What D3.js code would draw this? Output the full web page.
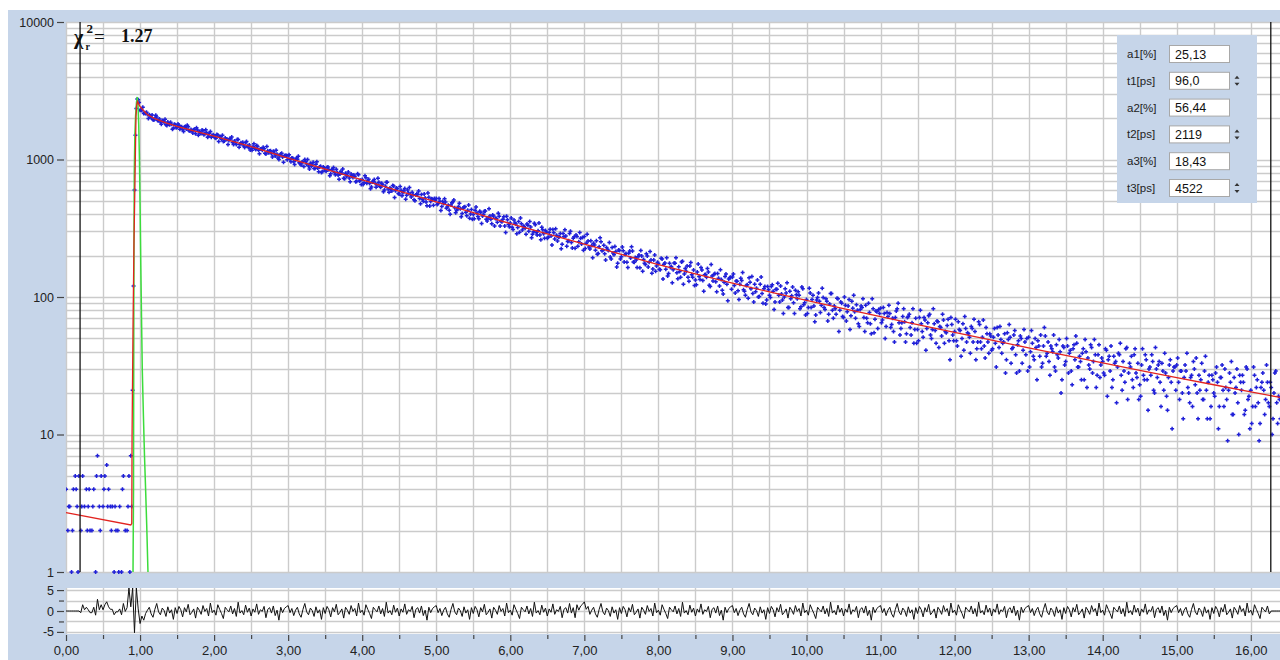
<!DOCTYPE html>
<html>
<head>
<meta charset="utf-8">
<script src="https://cdn.jsdelivr.net/npm/d3@7"></script>
<style>
  body { margin: 0; background: #fff; }
  svg { display: block; }
  text { font-family: "Liberation Sans", Arial, sans-serif; }
</style>
</head>
<body>
<svg id="chart" width="1280" height="660"></svg>
<script>
// ---- Decay measurement (TCSPC), channel width in ns ----
const channelWidth = 0.0125;

// photon counts per channel, starting at 0 ns
const counts = [
4,0,2,3,3,0,1,2,4,0,5,4,3,1,5,0,2,3,5,0,3,0,4,2,3,4,2,0,2,3,4,0,1,5,7,0,3,2,5,0,3,4,5,0,6,3,4,0,3,2,3,0,1,3,2,0,2,1,3,0,1,4,5,0,2,0,2,3,5,1,7,3,21,120,600,1500,2350,2750,2720,2600,
2285,2289,2276,2403,2161,2189,2163,2209,2129,1983,2120,2083,2008,2106,1942,1936,1998,2099,2036,1924,1921,1970,1870,1805,1922,1894,1875,1959,1792,1768,1875,1811,1788,1869,1805,1657,1685,1807,1793,1703,
1715,1815,1772,1658,1726,1732,1643,1595,1720,1737,1666,1778,1727,1618,1612,1650,1624,1556,1645,1659,1542,1700,1637,1504,1596,1561,1543,1640,1617,1513,1548,1649,1565,1452,1479,1551,1595,1454,1489,1515,
1487,1440,1430,1519,1510,1354,1456,1464,1406,1500,1349,1365,1436,1401,1402,1285,1372,1421,1411,1457,1329,1286,1365,1326,1283,1395,1397,1228,1289,1324,1300,1334,1252,1223,1326,1349,1251,1230,1277,1171,
1199,1169,1245,1304,1207,1184,1263,1241,1167,1100,1193,1194,1168,1227,1197,1111,1095,1243,1152,1119,1155,1159,1100,1041,1148,1111,1059,1166,1093,1027,1001,1063,1096,1111,1041,955,1065,1071,1069,996,
1065,1082,1003,963,1025,1020,963,918,993,1026,1006,1057,947,936,913,961,963,890,998,968,927,1000,897,852,938,896,911,956,859,861,922,964,866,816,883,892,804,819,883,866,
833,821,873,883,843,761,788,845,842,875,806,774,850,804,773,718,783,823,798,853,729,725,795,758,769,812,734,688,785,762,739,773,753,690,695,788,776,699,705,657,
715,657,677,762,736,672,700,718,668,613,631,687,694,715,673,628,654,731,684,640,629,673,657,583,601,640,684,683,610,578,621,610,589,648,642,530,593,621,613,567,
561,635,597,546,572,590,615,513,550,600,570,625,556,533,579,555,510,502,553,564,557,590,521,477,557,513,497,562,524,490,461,571,531,459,495,519,514,464,520,504,
521,470,479,520,496,426,455,494,478,518,490,442,451,465,428,400,466,484,493,508,445,410,425,436,456,481,439,384,404,444,451,453,414,390,428,467,374,401,432,368,
398,370,428,452,409,385,371,421,412,342,388,400,420,422,367,357,375,438,388,368,341,395,389,328,372,372,349,407,387,328,356,353,367,383,328,294,387,365,337,324,
346,376,321,310,363,345,340,289,320,354,296,375,341,307,327,325,316,286,339,333,301,354,323,270,286,298,344,336,295,282,303,345,283,261,321,308,289,267,304,297,
268,272,295,311,278,239,310,293,264,313,281,255,272,274,290,224,242,290,274,309,278,234,253,256,290,301,249,227,268,274,226,282,276,234,252,295,267,243,271,219,
276,225,246,286,255,231,223,257,237,193,246,239,219,257,205,207,232,270,252,217,219,238,206,186,229,222,218,249,195,189,229,209,203,233,214,165,176,220,218,189,
196,231,217,180,204,207,179,164,208,216,192,232,216,180,179,194,186,164,196,202,163,218,199,154,187,176,172,206,199,165,179,214,186,149,160,186,202,154,168,179,
175,159,158,191,189,135,173,177,159,193,142,148,176,164,167,127,158,177,176,193,150,136,166,153,139,180,182,124,147,161,154,168,139,130,168,178,145,139,157,121,
133,123,152,174,141,134,164,157,132,110,145,146,139,161,152,122,119,172,142,131,146,148,129,109,148,137,120,158,134,112,105,128,141,147,124,94,135,138,139,114,
140,147,121,107,131,130,111,96,124,137,132,151,113,110,103,121,123,98,138,128,115,141,106,92,124,109,116,133,100,101,124,140,106,90,115,119,89,95,119,113,
103,99,119,123,110,81,92,114,114,126,103,92,120,105,95,76,100,115,107,127,84,84,110,97,102,118,91,76,112,104,97,109,103,82,85,118,115,88,91,74,
96,76,84,116,107,84,96,103,86,66,74,95,99,107,93,77,87,116,99,84,81,97,93,67,75,89,106,106,80,70,86,82,75,98,97,56,80,92,90,72,
71,100,87,67,78,86,96,58,73,93,83,103,78,70,88,80,64,61,81,86,84,97,71,56,87,70,65,90,77,64,54,97,82,55,69,79,78,59,81,76,
83,65,68,84,76,50,61,77,72,87,76,60,63,70,56,47,71,79,82,90,65,53,59,65,72,82,66,47,54,71,72,75,60,53,65,82,46,58,70,46,
58,48,71,80,64,56,51,71,68,41,59,65,73,75,53,50,58,82,64,57,46,67,66,43,61,60,52,75,68,46,56,55,62,69,48,35,71,63,53,48,
56,69,48,44,66,58,57,37,50,64,41,72,59,47,55,54,51,39,61,59,47,69,56,35,42,47,66,63,47,42,51,68,44,36,60,54,47,39,54,52,
41,42,51,59,46,31,60,53,43,61,49,39,46,47,54,28,35,55,49,63,51,33,42,43,53,57,38,28,45,48,29,52,50,33,41,58,47,38,50,29,
51,31,40,57,46,37,35,50,43,25,48,44,37,53,31,33,44,60,52,37,39,47,34,27,44,42,40,53,31,29,45,38,36,49,40,20,25,44,43,32,
34,50,44,28,39,41,29,23,42,45,35,52,46,31,31,37,34,25,39,42,25,49,40,22,36,32,30,45,43,28,34,49,38,22,27,38,45,26,32,36,
34,28,27,42,41,19,35,37,29,44,22,25,37,33,34,17,31,39,38,46,27,21,34,29,24,42,43,18,28,33,31,37,25,22,38,42,28,26,33,18,
23,19,32,42,27,25,38,35,25,15,30,31,27,38,34,21,20,43,30,26,32,34,24,16,33,29,21,39,28,19,15,26,32,35,24,11,29,31,31,21,
32,36,24,18,29,29,20,13,26,32,29,39,22,20,17,26,27,16,34,30,23,36,20,13,27,21,25,33,18,18,29,37,21,13,24,27,13,16,27,25,
20,19,28,31,24,11,16,26,26,32,21,16,30,22,18,9,21,28,24,34,14,14,26,20,22,30,17,10,27,24,21,27,24,14,15,31,30,18,19,11,
21,12,16,31,27,16,22,25,17,9,12,22,24,28,21,14,18,32,24,17,16,24,22,10,13,20,28,29,17,12,19,18,13
];

// weighted residuals, sampled every residualStep ns from 0 ns
const residualStep = 0.025;
const residuals = [
0,0,0,0,0,0,0,0,
-0.4,1.5,0.3,0.9,0.3,-0.4,-0.4,0.9,-1.0,2.8,0.3,1.5,0.3,1.5,2.2,1.0,0.4,0.4,-0.9,-0.2,-0.2,0.5,-0.9,1.8,-0.1,0.8,
5.5,1.0,5.5,-5.2,5.5,0.5,
-3.0,-1.2,-2.2,-0.6,0.2,0.9,-0.7,-1.5,0.4,1.8,-0.2,-0.9,0.7,0.1,-1.3,1.0,-0.5,0.3,-2.0,0.8,   // 1.0 ns
-0.6,1.1,0.3,-1.4,0.8,-0.2,1.6,-0.9,-0.3,0.5,-1.7,0.9,0.2,-0.8,1.3,-0.1,0.6,-1.2,1.9,-0.4,    // 1.5
0.2,-1.0,1.5,0.4,-0.6,-1.8,0.9,0.3,-0.2,1.2,-0.7,0.6,-1.3,2.1,-0.5,0.1,-0.9,1.4,-0.3,0.7,     // 2.0
-1.2,0.5,-0.3,1.7,-0.8,0.3,-0.1,1.1,-1.6,0.4,0.8,-0.5,1.2,-1.1,0.2,-2.2,0.9,-0.4,0.6,1.0,     // 2.5
1.3,-0.4,0.6,-1.1,0.2,0.9,-0.7,-1.5,0.4,1.8,-0.2,-0.9,0.7,0.1,-1.3,1.0,-0.5,0.3,-2.0,0.8,     // 3.0
-0.6,1.1,0.3,-1.4,0.8,-0.2,1.6,-0.9,-0.3,0.5,-1.7,0.9,0.2,-0.8,1.3,-0.1,0.6,-1.2,1.9,-0.4,    // 3.5
0.2,-1.0,1.5,0.4,-0.6,-1.8,0.9,0.3,-0.2,1.2,-0.7,0.6,-1.3,2.1,-0.5,0.1,-0.9,1.4,-0.3,0.7,     // 4.0
-1.2,0.5,-0.3,1.7,-0.8,0.3,-0.1,1.1,-1.6,0.4,0.8,-0.5,1.2,-1.1,0.2,-2.2,0.9,-0.4,0.6,1.0,     // 4.5
1.3,-0.4,0.6,-1.1,0.2,0.9,-0.7,-1.5,0.4,1.8,-0.2,-0.9,0.7,0.1,-1.3,1.0,-0.5,0.3,-2.0,0.8,     // 5.0
-0.6,1.1,0.3,-1.4,0.8,-0.2,1.6,-0.9,-0.3,0.5,-1.7,0.9,0.2,-0.8,1.3,-0.1,0.6,-1.2,1.9,-0.4,    // 5.5
0.2,-1.0,1.5,0.4,-0.6,-1.8,0.9,0.3,-0.2,1.2,-0.7,0.6,-1.3,2.1,-0.5,0.1,-0.9,1.4,-0.3,0.7,     // 6.0
-1.2,0.5,-0.3,1.7,-0.8,0.3,-0.1,1.1,-1.6,0.4,0.8,-0.5,1.8,-0.5,0.8,-1.6,1.5,0.2,1.2,1.6,      // 6.5
2.2,0.4,1.1,-0.8,0.2,0.9,-0.7,-1.5,0.4,1.8,-0.2,-0.9,0.7,0.1,-1.3,1.0,-0.5,0.3,-2.0,0.8,      // 7.0
-0.6,1.1,0.3,-1.4,0.8,-0.2,1.6,-0.9,-0.3,0.5,-1.7,0.9,0.2,-0.8,1.3,-0.1,0.6,-1.2,1.9,-0.4,    // 7.5
0.2,-1.0,1.5,0.4,-0.6,-1.8,0.9,0.3,-0.2,1.2,-0.7,0.6,-1.3,2.1,-0.5,0.1,-0.9,1.4,-0.3,0.7,     // 8.0
-1.2,0.5,-0.3,1.7,-0.8,0.3,-0.1,1.1,-1.6,0.4,0.8,-0.5,1.2,-1.1,0.2,-2.2,0.9,-0.4,0.6,1.0,     // 8.5
1.3,-0.4,0.6,-1.1,0.2,0.9,-0.7,-1.5,0.4,1.8,-0.2,-0.9,0.7,0.1,-1.3,1.0,-0.5,0.3,-2.0,0.8,     // 9.0
-0.6,1.1,0.3,-1.4,0.8,-0.2,1.6,-0.9,-0.3,0.5,-1.7,0.9,0.2,-0.8,1.3,-0.1,0.6,-1.2,1.9,-0.4,    // 9.5
0.2,-1.0,1.5,0.4,-0.6,-1.8,0.9,0.3,-0.2,1.2,-0.7,0.6,-1.3,2.1,-0.5,0.1,-0.9,1.4,-0.3,0.7,     // 10.0
-1.2,0.5,-0.3,1.7,-0.8,0.3,-0.1,1.1,-1.6,0.4,0.8,-0.5,1.2,-1.1,0.2,-2.2,0.9,-0.4,0.6,1.0,     // 10.5
1.3,-0.4,0.6,-1.1,0.2,0.9,-0.7,-1.5,0.4,1.8,-0.2,-0.9,0.7,0.1,-1.3,1.0,-0.5,0.3,-2.0,0.8,     // 11.0
-0.6,1.1,0.3,-1.4,0.8,-0.2,1.6,-0.9,-0.3,0.5,-1.7,0.9,0.2,-0.8,1.3,-0.1,0.6,-1.2,1.9,-0.4,    // 11.5
0.2,-1.0,1.5,0.4,-0.6,-1.8,0.9,0.3,-0.2,1.2,-0.7,0.6,-1.3,2.1,-0.5,0.1,-0.9,1.4,-0.3,0.7,     // 12.0
-1.2,0.5,-0.3,1.7,-0.8,0.3,-0.1,1.1,-1.6,0.4,0.8,-0.5,1.2,-1.1,0.2,-2.2,0.9,-0.4,0.6,1.0,     // 12.5
1.3,-0.4,0.6,-1.1,0.2,0.9,-0.7,-1.5,0.4,1.8,-0.2,-0.9,0.7,0.1,-1.3,1.0,-0.5,0.3,-2.0,0.8,     // 13.0
-0.6,1.1,0.3,-1.4,0.8,-0.2,1.6,-0.9,-0.3,0.5,-1.7,0.9,0.2,-0.8,1.3,-0.1,0.6,-1.2,1.9,-0.4,    // 13.5
0.2,-1.0,1.5,0.4,-0.6,-1.8,0.9,0.3,-0.2,1.2,-0.7,0.6,-1.3,2.1,-0.5,0.1,-0.9,1.4,-0.3,0.7,     // 14.0
-1.2,0.5,-0.3,1.7,-0.8,0.3,-0.1,1.1,-1.6,0.4,0.8,-0.5,1.2,-1.1,0.2,-2.2,0.9,-0.4,0.6,1.0,     // 14.5
1.3,-0.4,0.6,-1.1,0.2,0.9,-0.7,-1.5,0.4,1.8,-0.2,-0.9,0.7,0.1,-1.3,1.0,-0.5,0.3,-2.0,0.8,     // 15.0
-0.6,1.1,0.3,-1.4,0.8,-0.2,1.6,-0.9,-0.3,0.5,-1.7,0.9,0.2,-0.8,1.3,-0.1,0.6,-1.2,1.9,-0.4,    // 15.5
0.2,-1.0,1.5,0.4,-0.6,-1.8,0.9,0.3,-0.2,1.2,-0.7,0,0,0,0,0,0                                  // 16.0
];

// fitted tri-exponential model curve (time in ns, counts)
const fitTime   = [0, 0.875, 0.888, 0.892, 0.905, 0.918, 0.93, 0.945, 0.955, 0.965, 0.975, 1.0, 1.05, 1.1, 1.2, 1.35, 1.5, 1.75, 2, 2.5, 3, 3.5, 4, 4.5, 5, 5.5, 6, 6.5, 7, 7.5, 8, 8.5, 9, 9.5, 10, 10.5, 11, 11.5, 12, 12.5, 13, 13.5, 14, 14.5, 15, 15.5, 16, 16.42];
const fitCounts = [2.7, 2.2, 2.25, 9.5, 60, 250, 620, 2050, 2500, 2640, 2580, 2420, 2260, 2120, 1980, 1850, 1740, 1600, 1480, 1240, 1025, 850, 710, 590, 492, 410, 342, 288, 242, 204, 172, 147, 126, 109, 94.5, 82.3, 72, 63, 55.2, 48.5, 42.7, 37.6, 33.2, 29.3, 25.9, 23, 20.4, 18.5];

// instrument response function
const irfTime   = [0.905, 0.912, 0.915, 0.918, 0.922, 0.93, 0.94, 0.952, 0.963, 0.972, 0.982, 0.992, 1.0, 1.01, 1.02, 1.03, 1.045, 1.06, 1.075, 1.09, 1.107];
const irfCounts = [1, 4, 40, 250, 800, 1500, 2100, 2600, 2850, 2500, 1800, 1000, 480, 170, 70, 30, 14, 7, 4, 2.2, 1];

// fit range cursors (ns)
const cursorTimes = [0.19, 16.27];

// axis ticks
const yTickValues = [1, 10, 100, 1000, 10000];
const yTickLabels = ["1", "10", "100", "1000", "10000"];
const resTickValues = [5, 0, -5];
const resTickLabels = ["5", "0", "-5"];
const resMinorTicks = [2.5, -2.5];
const xTickValues = [0, 1, 2, 3, 4, 5, 6, 7, 8, 9, 10, 11, 12, 13, 14, 15, 16];
const xTickLabels = ["0,00", "1,00", "2,00", "3,00", "4,00", "5,00", "6,00", "7,00", "8,00", "9,00", "10,00", "11,00", "12,00", "13,00", "14,00", "15,00", "16,00"];

// fit result panel
const paramLabels = ["a1[%]", "t1[ps]", "a2[%]", "t2[ps]", "a3[%]", "t3[ps]"];
const paramValues = ["25,13", "96,0", "56,44", "2119", "18,43", "4522"];
const paramSpinner = [false, true, false, true, false, true];
const chiSquared = "1.27";

// ---- layout ----
const W = 1280, H = 660;
const frameColor = "#c6d5e9";
const gridColor = "#cbcbcb";
const main = { left: 66, right: 1280, top: 22, bottom: 572 };
const resid = { top: 588, bottom: 634 };
const tMax = (main.right - main.left) / 74.05;

const svg = d3.select("#chart");

svg.append("rect").attr("x", 8).attr("y", 10).attr("width", W - 8).attr("height", H - 10).attr("fill", frameColor);

const x = d3.scaleLinear().domain([0, tMax]).range([main.left, main.right]);
const y = d3.scaleLog().domain([1, 10000]).range([main.bottom, main.top]);
const yr = d3.scaleLinear().domain([-5.5, 5.5]).range([resid.bottom, resid.top]);

// plot backgrounds
svg.append("rect").attr("x", main.left).attr("y", main.top)
  .attr("width", main.right - main.left).attr("height", main.bottom - main.top).attr("fill", "#fff");
svg.append("rect").attr("x", main.left).attr("y", resid.top)
  .attr("width", main.right - main.left).attr("height", resid.bottom - resid.top).attr("fill", "#fff");

const defs = svg.append("defs");
defs.append("clipPath").attr("id", "clipMain").append("rect")
  .attr("x", main.left).attr("y", main.top).attr("width", main.right - main.left).attr("height", main.bottom - main.top);
defs.append("clipPath").attr("id", "clipDots").append("rect")
  .attr("x", main.left).attr("y", main.top - 2).attr("width", main.right - main.left).attr("height", main.bottom - main.top + 4);
defs.append("clipPath").attr("id", "clipRes").append("rect")
  .attr("x", main.left).attr("y", resid.top).attr("width", main.right - main.left).attr("height", resid.bottom - resid.top);

// grid
const vGrid = d3.range(0, tMax, 0.5);
const grid = svg.append("g").attr("stroke", gridColor).attr("stroke-width", 1.4);
grid.selectAll("line.hm").data(y.ticks()).join("line")
  .attr("x1", main.left).attr("x2", main.right)
  .attr("y1", d => Math.round(y(d)) + 0.5).attr("y2", d => Math.round(y(d)) + 0.5);
grid.selectAll("line.vm").data(vGrid).join("line")
  .attr("x1", d => Math.round(x(d)) + 0.5).attr("x2", d => Math.round(x(d)) + 0.5)
  .attr("y1", main.top).attr("y2", main.bottom);
grid.selectAll("line.hr").data([5, 2.5, 0, -2.5, -5]).join("line")
  .attr("x1", main.left).attr("x2", main.right)
  .attr("y1", d => Math.round(yr(d)) + 0.5).attr("y2", d => Math.round(yr(d)) + 0.5);
grid.selectAll("line.vr").data(vGrid).join("line")
  .attr("x1", d => Math.round(x(d)) + 0.5).attr("x2", d => Math.round(x(d)) + 0.5)
  .attr("y1", resid.top).attr("y2", resid.bottom);

// measured decay points
const points = counts.map((c, i) => ({ t: i * channelWidth, c })).filter(d => d.c > 0);
svg.append("g").attr("clip-path", "url(#clipDots)")
  .attr("stroke", "#2020d8").attr("stroke-width", 1.5)
  .selectAll("path").data(points).join("path")
  .attr("d", d => `M${x(d.t) - 2},${y(d.c)}h4M${x(d.t)},${y(d.c) - 2}v4`);

// instrument response
const lineLog = d3.line().x(d => x(d[0])).y(d => y(d[1]));
svg.append("path").attr("clip-path", "url(#clipMain)")
  .attr("d", lineLog(irfTime.map((t, i) => [t, irfCounts[i]])))
  .attr("fill", "none").attr("stroke", "#3cdc3c").attr("stroke-width", 1.5);

// model fit
svg.append("path").attr("clip-path", "url(#clipMain)")
  .attr("d", lineLog(fitTime.map((t, i) => [t, fitCounts[i]])))
  .attr("fill", "none").attr("stroke", "#e2231f").attr("stroke-width", 1.3);

// cursors
svg.append("g").selectAll("line").data(cursorTimes).join("line")
  .attr("x1", d => x(d)).attr("x2", d => x(d))
  .attr("y1", main.top).attr("y2", main.bottom)
  .attr("stroke", "#111").attr("stroke-width", 1.3);

// residual trace
svg.append("path").attr("clip-path", "url(#clipRes)")
  .attr("d", d3.line().x((d, i) => x(i * residualStep)).y(d => yr(d))(residuals))
  .attr("fill", "none").attr("stroke", "#111").attr("stroke-width", 1);

// axes
function styleAxis(g, size) {
  g.select(".domain").remove();
  g.selectAll("line").attr("stroke", "#444").attr("stroke-width", 1.2);
  g.selectAll("text").attr("fill", "#222").style("font-size", size + "px")
    .style("font-family", '"Liberation Sans", Arial, sans-serif');
}
svg.append("g").attr("transform", `translate(${main.left - 2},0)`)
  .call(d3.axisLeft(y).tickValues(yTickValues).tickFormat((d, i) => yTickLabels[i]).tickSize(7).tickPadding(3))
  .call(g => styleAxis(g, 12.5));
svg.append("g").attr("transform", `translate(${main.left - 2},0)`)
  .call(d3.axisLeft(yr).tickValues(resTickValues).tickFormat((d, i) => resTickLabels[i]).tickSize(7).tickPadding(3))
  .call(g => styleAxis(g, 12.5));
svg.append("g").attr("transform", `translate(${main.left - 2},0)`)
  .call(d3.axisLeft(yr).tickValues(resMinorTicks).tickFormat("").tickSize(5))
  .call(g => styleAxis(g, 12));
svg.append("g").attr("transform", `translate(0,${resid.bottom + 1})`)
  .call(d3.axisBottom(x).tickValues(xTickValues).tickFormat((d, i) => xTickLabels[i]).tickSize(6).tickPadding(5))
  .call(g => styleAxis(g, 13));
svg.append("g").attr("transform", `translate(0,${resid.bottom + 1})`)
  .call(d3.axisBottom(x).tickValues(xTickValues.map(v => v + 0.5).filter(v => v < tMax)).tickFormat("").tickSize(4))
  .call(g => styleAxis(g, 13));

// reduced chi-square label (serif, bold)
const chi = svg.append("g").attr("fill", "#111");
chi.append("text").attr("x", 74).attr("y", 44).style("font-size", "20px").text("χ");
chi.append("text").attr("x", 86.5).attr("y", 33).style("font-size", "13px").text("2");
chi.append("text").attr("x", 85.5).attr("y", 50).style("font-size", "10px").text("r");
chi.append("text").attr("x", 94).attr("y", 43).style("font-size", "19px").style("font-weight", "normal").text("=");
chi.append("text").attr("x", 121).attr("y", 42).style("font-size", "18px").text(chiSquared);
chi.selectAll("text")
  .style("font-family", '"Liberation Serif", "DejaVu Serif", serif')
  .style("font-weight", function() { return this.style.fontWeight || "bold"; });

// fit parameter panel
const panel = svg.append("g");
panel.append("rect").attr("x", 1117).attr("y", 35).attr("width", 140).attr("height", 168).attr("fill", frameColor);
const rows = panel.selectAll("g").data(paramLabels).join("g")
  .attr("transform", (d, i) => `translate(0,${54 + i * 26.8})`);
rows.append("text").attr("x", 1127).attr("y", 4).attr("fill", "#222").style("font-size", "11.5px").text(d => d);
rows.append("rect").attr("x", 1169.5).attr("y", -8.5).attr("width", 60).attr("height", 17)
  .attr("fill", "#fff").attr("stroke", "#a8a8a8").attr("stroke-width", 1);
rows.append("text").attr("x", 1175).attr("y", 4.5).attr("fill", "#111").style("font-size", "12.5px")
  .text((d, i) => paramValues[i]);
rows.filter((d, i) => paramSpinner[i]).append("path")
  .attr("d", "M1234.5,-2L1239.5,-2L1237,-5ZM1234.5,2L1239.5,2L1237,5Z").attr("fill", "#333");
</script>
</body>
</html>
